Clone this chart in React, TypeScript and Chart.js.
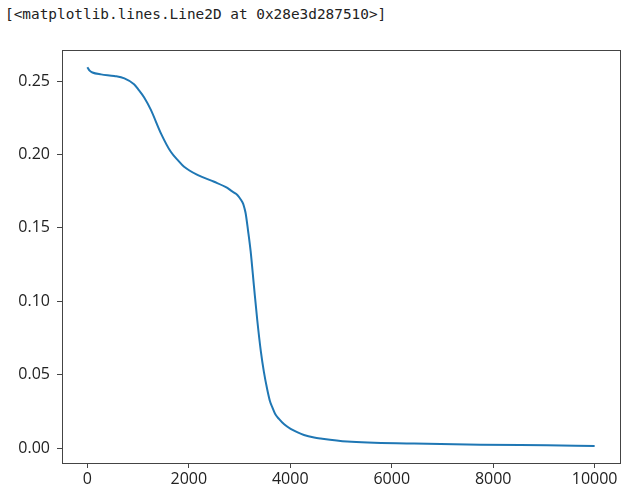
import React, { useEffect, useRef } from "react";
import { Chart, registerables } from "chart.js";

Chart.register(...registerables);

const headerText = "[<matplotlib.lines.Line2D at 0x28e3d287510>]";

const xValues = [
  0, 40, 100, 270, 530, 730, 920, 1000, 1120, 1250, 1450, 1645, 1800, 1907, 2180,
  2500, 2760, 2840, 2930, 2980, 3030, 3070, 3100, 3121, 3167, 3219, 3285, 3350,
  3420, 3480, 3546, 3600, 3645, 3700, 3777, 3880, 4007, 4146, 4270, 4470, 4600,
  5120, 6440, 7750, 9060, 10000,
];
const yValues = [
  0.2594, 0.2572, 0.2558, 0.2545, 0.2534, 0.2518, 0.2478, 0.2445, 0.2388, 0.2305,
  0.2144, 0.2018, 0.1955, 0.1916, 0.1859, 0.1814, 0.1772, 0.1752, 0.1732, 0.1715,
  0.169, 0.1665, 0.163, 0.1598, 0.1484, 0.134, 0.11, 0.087, 0.066, 0.052, 0.04,
  0.032, 0.028, 0.0235, 0.02, 0.0163, 0.0132, 0.0108, 0.0091, 0.0074, 0.0067,
  0.0046, 0.0032, 0.0025, 0.002, 0.0016,
];

const xTicks = [0, 2000, 4000, 6000, 8000, 10000];
const yTicks = [0, 0.05, 0.1, 0.15, 0.2, 0.25];

const boxPlugin = {
  id: "boxPlugin",
  afterDraw(chart: any) {
    const { ctx, chartArea } = chart;
    ctx.save();
    ctx.strokeStyle = "#444";
    ctx.lineWidth = 1;
    ctx.strokeRect(
      Math.round(chartArea.left) + 0.5,
      Math.round(chartArea.top) + 0.5,
      Math.round(chartArea.right - chartArea.left),
      Math.round(chartArea.bottom - chartArea.top)
    );
    ctx.restore();
  },
};

export default function App() {
  const canvasRef = useRef<HTMLCanvasElement | null>(null);

  useEffect(() => {
    if (!canvasRef.current) return;
    const points = xValues.map((x, i) => ({ x, y: yValues[i] }));
    const chart = new Chart(canvasRef.current, {
      type: "line",
      data: {
        datasets: [
          {
            data: points,
            borderColor: "#1f77b4",
            borderWidth: 2,
            pointRadius: 0,
            fill: false,
            cubicInterpolationMode: "monotone",
          },
        ],
      },
      options: {
        responsive: false,
        animation: false,
        events: [],
        layout: { padding: { top: 50, right: 10, left: 0, bottom: 0 } },
        plugins: { legend: { display: false }, tooltip: { enabled: false } },
        scales: {
          x: {
            type: "linear",
            min: -500,
            max: 10500,
            afterFit(scale: any) {
              scale.height = 38;
            },
            afterBuildTicks(scale: any) {
              scale.ticks = xTicks.map((v) => ({ value: v }));
            },
            ticks: {
              font: { family: "'Open Sans'", size: 16 },
              color: "#222",
              padding: 2,
              maxRotation: 0,
              autoSkip: false,
              callback: (v: any) => String(v),
            },
            grid: {
              drawOnChartArea: false,
              drawTicks: true,
              tickLength: 5,
              tickColor: "#444",
            },
            border: { display: true, color: "#444", width: 1 },
          },
          y: {
            type: "linear",
            min: -0.01,
            max: 0.2711,
            afterFit(scale: any) {
              scale.width = 62;
            },
            afterBuildTicks(scale: any) {
              scale.ticks = yTicks.map((v) => ({ value: v }));
            },
            ticks: {
              font: { family: "'Open Sans'", size: 16 },
              color: "#222",
              padding: 7,
              autoSkip: false,
              callback: (v: any) => Number(v).toFixed(2),
            },
            grid: {
              drawOnChartArea: false,
              drawTicks: true,
              tickLength: 5,
              tickColor: "#444",
            },
            border: { display: true, color: "#444", width: 1 },
          },
        },
      },
      plugins: [boxPlugin],
    } as any);
    return () => chart.destroy();
  }, []);

  return (
    <div style={{ position: "absolute", left: 0, top: 0, width: 630, height: 501, background: "#fff" }}>
      <div
        style={{
          position: "absolute",
          left: 5,
          top: 4,
          fontFamily: "'DejaVu Sans Mono', monospace",
          fontSize: 14.4,
          color: "#222",
          whiteSpace: "pre",
          lineHeight: "20px",
        }}
      >
        {headerText}
      </div>
      <canvas ref={canvasRef} width={630} height={501} style={{ position: "absolute", left: 0, top: 0 }} />
    </div>
  );
}
